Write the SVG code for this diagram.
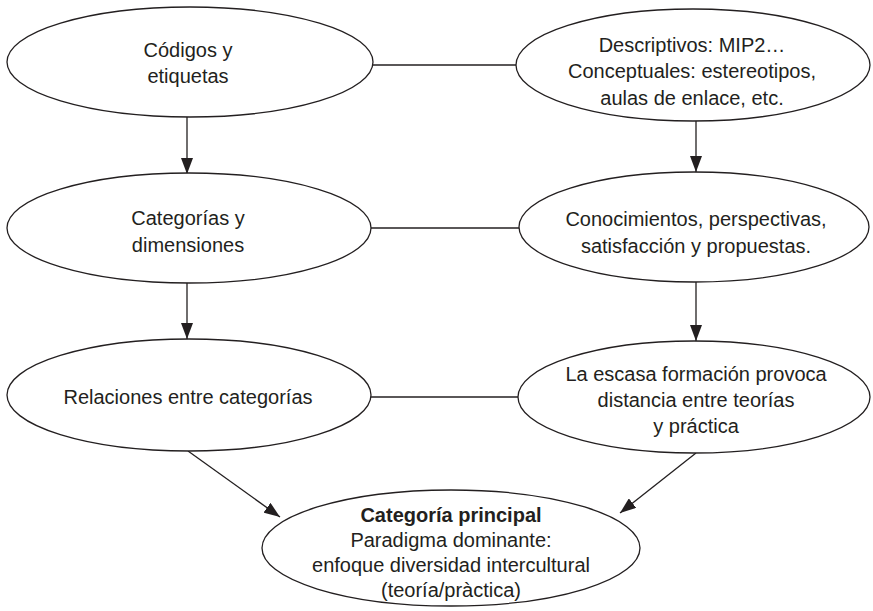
<svg xmlns="http://www.w3.org/2000/svg" width="873" height="611" viewBox="0 0 873 611">
<defs>
<marker id="arr" markerWidth="16" markerHeight="12" refX="16" refY="6" orient="auto" markerUnits="userSpaceOnUse">
<path d="M0,0 L16,6 L0,12 z" fill="#231f20"/>
</marker>
<style>
.n ellipse{fill:#fff;stroke:#231f20;stroke-width:1.3}
.n text{font-family:"Liberation Sans",Arial,Helvetica,sans-serif;font-size:20px;fill:#231f20;text-anchor:middle}
.c line{stroke:#231f20;stroke-width:1.3}
.c .a{marker-end:url(#arr)}
</style>
</defs>
<rect width="873" height="611" fill="#fff"/>
<g class="c" id="connectors">
<line x1="372" y1="65" x2="516" y2="65"/>
<line x1="371" y1="228" x2="519" y2="228"/>
<line x1="371" y1="397" x2="518" y2="397"/>
<line class="a" x1="187" y1="117" x2="187" y2="174"/>
<line class="a" x1="696" y1="121" x2="696" y2="172"/>
<line class="a" x1="187" y1="283" x2="187" y2="339"/>
<line class="a" x1="696" y1="282" x2="696" y2="341"/>
<line class="a" x1="188" y1="451" x2="280" y2="517"/>
<line class="a" x1="696" y1="453" x2="620" y2="513"/>
</g>
<g class="n" id="n1">
<ellipse cx="190" cy="62" rx="183" ry="55"/>
<text x="188" y="57">Códigos y</text>
<text x="188" y="83">etiquetas</text>
</g>
<g class="n" id="n2">
<ellipse cx="693" cy="65" rx="177" ry="56"/>
<text x="692" y="52">Descriptivos: MIP2…</text>
<text x="692" y="78">Conceptuales: estereotipos,</text>
<text x="692" y="105">aulas de enlace, etc.</text>
</g>
<g class="n" id="n3">
<ellipse cx="189" cy="228" rx="182" ry="55"/>
<text x="188" y="225">Categorías y</text>
<text x="188" y="252">dimensiones</text>
</g>
<g class="n" id="n4">
<ellipse cx="694" cy="227" rx="175" ry="55"/>
<text x="696" y="226">Conocimientos, perspectivas,</text>
<text x="696" y="253">satisfacción y propuestas.</text>
</g>
<g class="n" id="n5">
<ellipse cx="189" cy="395" rx="182" ry="56"/>
<text x="188" y="404">Relaciones entre categorías</text>
</g>
<g class="n" id="n6">
<ellipse cx="694" cy="397" rx="176" ry="56"/>
<text x="696" y="381">La escasa formación provoca</text>
<text x="696" y="407">distancia entre teorías</text>
<text x="696" y="433">y práctica</text>
</g>
<g class="n" id="n7">
<ellipse cx="451" cy="548" rx="189" ry="58"/>
<text x="451" y="522" font-weight="bold">Categoría principal</text>
<text x="451" y="547">Paradigma dominante:</text>
<text x="451" y="572">enfoque diversidad intercultural</text>
<text x="451" y="597">(teoría/pràctica)</text>
</g>
</svg>
